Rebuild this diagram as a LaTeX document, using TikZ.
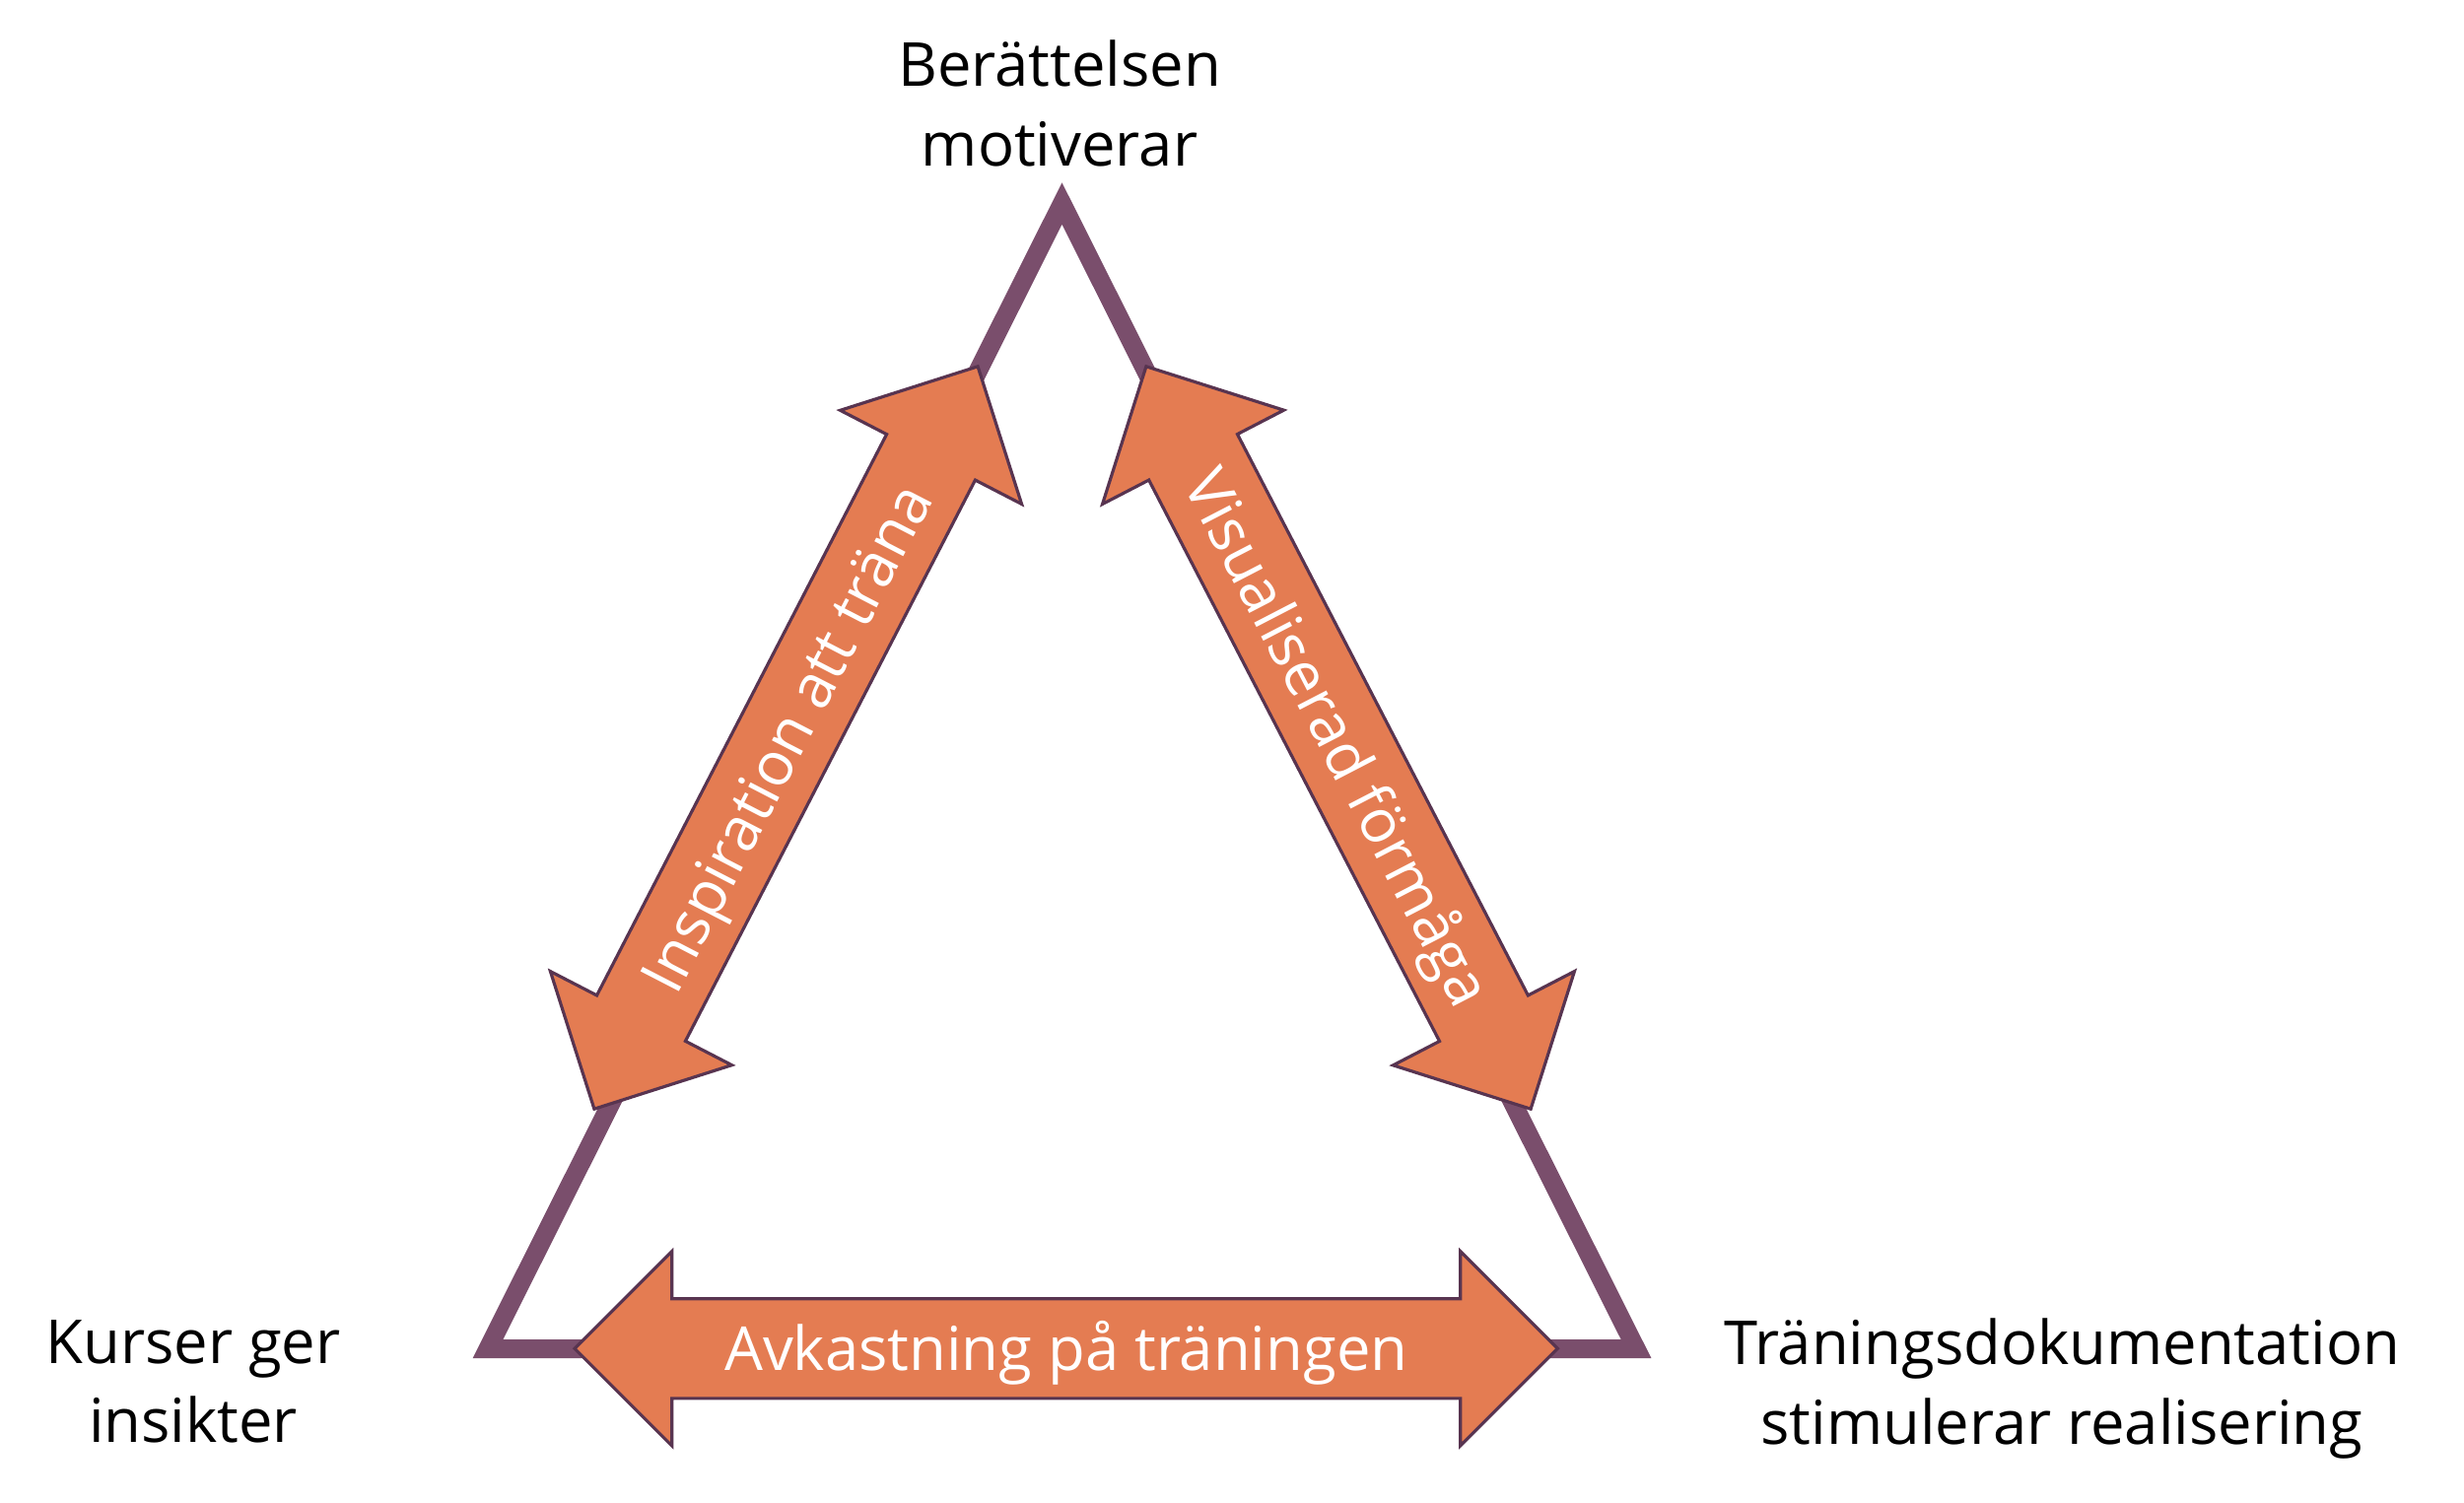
\documentclass[tikz,border=0pt]{standalone}
\usepackage{fontspec}
\setmainfont{Open Sans}
\usepackage{xcolor}
\definecolor{plumframe}{RGB}{122,78,108}
\definecolor{plumedge}{RGB}{88,52,80}
\definecolor{burntorange}{RGB}{228,124,82}
\usepackage{tikz}
\usetikzlibrary{positioning,shapes.arrows}

\begin{document}
\begin{tikzpicture}[x=0.01cm, y=-0.01cm, frame/.style={draw=plumframe, line width=5.4pt, miter limit=10}, flow/.style={double arrow, double arrow tip angle=90, draw=plumedge, line width=0.9pt, fill=burntorange, text=white, font=\fontsize{17.5}{22.8}\selectfont, text height=12.5pt, text depth=0pt, inner xsep=0.05cm, inner ysep=0.27cm, minimum width=0pt}, corner/.style={align=center, font=\fontsize{17.5}{22.8}\selectfont}]

\useasboundingbox (0,0) rectangle (2500,1524);

\coordinate (kurs) at (495,1368.5);
\coordinate (berat) at (1077.5,206.5);
\coordinate (tran) at (1660,1368.5);

\draw[frame] (kurs) -- (berat) -- (tran) -- cycle;

\node[flow, rotate=62.68, minimum height=8.475cm, double arrow head extend=0.53cm] (insp) at (797.5,748.5) {Inspiration att träna};
\node[flow, rotate=-62.62, minimum height=8.48cm, double arrow head extend=0.53cm] (visu) at (1358,748.5) {Visualiserad förmåga};
\node[flow, minimum height=9.967cm, double arrow head extend=0.48cm] (avk) at (1081.7,1368.3) {Avkastning på träningen};

\node[corner] (berattelse) at (1075,105) {Berättelsen\\motiverar};
\node[corner] (kurser) at (196,1401.7) {Kurser ger\\insikter};
\node[corner] (traning) at (2092,1409) {Träningsdokumentation\\stimulerar realisering};
\end{tikzpicture}
\end{document}
